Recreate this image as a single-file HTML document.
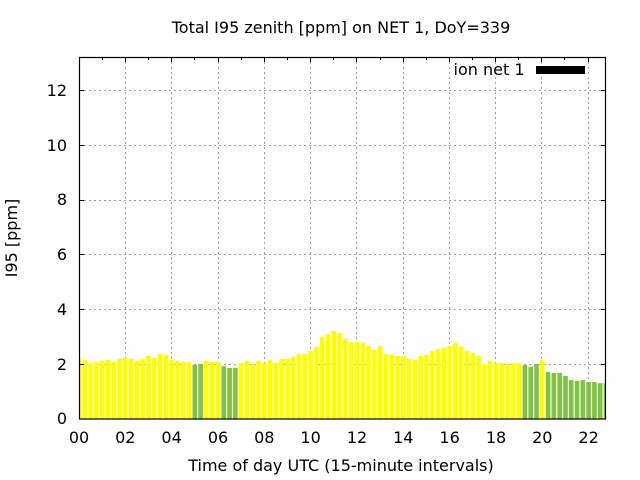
<!DOCTYPE html>
<html><head><meta charset="utf-8"><style>
html,body{margin:0;padding:0;background:#fff;}
svg{display:block;}
text{font-family:"DejaVu Sans","Liberation Sans",sans-serif;font-size:16px;fill:#000;}
</style></head><body>
<svg width="640" height="480" viewBox="0 0 640 480" xmlns="http://www.w3.org/2000/svg">
<rect x="0" y="0" width="640" height="480" fill="#fff"/>
<defs><clipPath id="pc"><rect x="79" y="57" width="527" height="362"/></clipPath></defs>
<g stroke="#a0a0a0" stroke-width="1" stroke-dasharray="2,3" fill="none">
<path d="M79,364.5H606M79,309.5H606M79,254.5H606M79,200.5H606M79,145.5H606M79,90.5H606"/>
<path d="M125.5,57V419M171.5,57V419M218.5,57V419M264.5,57V419M310.5,57V419M356.5,57V419M403.5,57V419M449.5,57V419M495.5,57V419M541.5,57V419M588.5,57V419"/>
</g>
<g clip-path="url(#pc)">
<g transform="translate(79,419) scale(5.7912,-27.39)">
<path fill="#ffff00" d="M-.4 0v2.23h.8V0z M.6 0v2.15h.8V0z M1.6 0v2.04h.8V0z M2.6 0v2.08h.8V0z M3.6 0v2.12h.8V0z M4.6 0v2.15h.8V0z M5.6 0v2.08h.8V0z M6.6 0v2.19h.8V0z M7.6 0v2.23h.8V0z M8.6 0v2.19h.8V0z M9.6 0v2.12h.8V0z M10.6 0v2.19h.8V0z M11.6 0v2.3h.8V0z M12.6 0v2.23h.8V0z M13.6 0v2.37h.8V0z M14.6 0v2.34h.8V0z M15.6 0v2.15h.8V0z M16.6 0v2.12h.8V0z M17.6 0v2.08h.8V0z M18.6 0v2.08h.8V0z M21.6 0v2.12h.8V0z M22.6 0v2.08h.8V0z M23.6 0v2.08h.8V0z M27.6 0v2.04h.8V0z M28.6 0v2.12h.8V0z M29.6 0v2.01h.8V0z M30.6 0v2.12h.8V0z M31.6 0v2.04h.8V0z M32.6 0v2.15h.8V0z M33.6 0v2.04h.8V0z M34.6 0v2.19h.8V0z M35.6 0v2.19h.8V0z M36.6 0v2.26h.8V0z M37.6 0v2.37h.8V0z M38.6 0v2.37h.8V0z M39.6 0v2.48h.8V0z M40.6 0v2.63h.8V0z M41.6 0v2.99h.8V0z M42.6 0v3.1h.8V0z M43.6 0v3.21h.8V0z M44.6 0v3.14h.8V0z M45.6 0v2.92h.8V0z M46.6 0v2.81h.8V0z M47.6 0v2.81h.8V0z M48.6 0v2.77h.8V0z M49.6 0v2.66h.8V0z M50.6 0v2.52h.8V0z M51.6 0v2.66h.8V0z M52.6 0v2.37h.8V0z M53.6 0v2.34h.8V0z M54.6 0v2.3h.8V0z M55.6 0v2.3h.8V0z M56.6 0v2.19h.8V0z M57.6 0v2.15h.8V0z M58.6 0v2.3h.8V0z M59.6 0v2.34h.8V0z M60.6 0v2.48h.8V0z M61.6 0v2.55h.8V0z M62.6 0v2.59h.8V0z M63.6 0v2.66h.8V0z M64.6 0v2.77h.8V0z M65.6 0v2.63h.8V0z M66.6 0v2.48h.8V0z M67.6 0v2.41h.8V0z M68.6 0v2.3h.8V0z M69.6 0v2.01h.8V0z M70.6 0v2.12h.8V0z M71.6 0v2.04h.8V0z M72.6 0v2.04h.8V0z M73.6 0v2.01h.8V0z M74.6 0v2.04h.8V0z M75.6 0v2.04h.8V0z M79.6 0v2.15h.8V0z"/>
<path fill="#80c242" d="M19.6 0v1.97h.8V0z M20.6 0v2.01h.8V0z M24.6 0v1.93h.8V0z M25.6 0v1.86h.8V0z M26.6 0v1.86h.8V0z M76.6 0v1.97h.8V0z M77.6 0v1.9h.8V0z M78.6 0v2.01h.8V0z M80.6 0v1.72h.8V0z M81.6 0v1.68h.8V0z M82.6 0v1.68h.8V0z M83.6 0v1.57h.8V0z M84.6 0v1.42h.8V0z M85.6 0v1.39h.8V0z M86.6 0v1.42h.8V0z M87.6 0v1.35h.8V0z M88.6 0v1.35h.8V0z M89.6 0v1.31h.8V0z M90.6 0v1.31h.8V0z"/>
</g>
</g>
<g stroke="#000" stroke-width="1" fill="none">
<path d="M79,364.5h5M79,309.5h5M79,254.5h5M79,200.5h5M79,145.5h5M79,90.5h5"/>
<path d="M606,364.5h-5M606,309.5h-5M606,254.5h-5M606,200.5h-5M606,145.5h-5M606,90.5h-5"/>
<path d="M125.5,57v5M171.5,57v5M218.5,57v5M264.5,57v5M310.5,57v5M356.5,57v5M403.5,57v5M449.5,57v5M495.5,57v5M541.5,57v5M588.5,57v5"/>
<path d="M102.5,57v3M148.5,57v3M194.5,57v3M241.5,57v3M287.5,57v3M333.5,57v3M380.5,57v3M426.5,57v3M472.5,57v3M518.5,57v3M564.5,57v3"/>
</g>
<rect x="79.5" y="57.5" width="526" height="361.5" fill="none" stroke="#000" stroke-width="1.2"/>
<g text-anchor="end">
<text x="67" y="424">0</text>
<text x="67" y="370">2</text>
<text x="67" y="315">4</text>
<text x="67" y="260">6</text>
<text x="67" y="205">8</text>
<text x="67" y="151">10</text>
<text x="67" y="96">12</text>
</g>
<g text-anchor="middle">
<text x="79" y="443">00</text>
<text x="125.3" y="443">02</text>
<text x="171.6" y="443">04</text>
<text x="218" y="443">06</text>
<text x="264.3" y="443">08</text>
<text x="310.6" y="443">10</text>
<text x="357" y="443">12</text>
<text x="403.3" y="443">14</text>
<text x="449.6" y="443">16</text>
<text x="496" y="443">18</text>
<text x="542.3" y="443">20</text>
<text x="588.6" y="443">22</text>
</g>
<text x="341" y="33" text-anchor="middle">Total I95 zenith [ppm] on NET 1, DoY=339</text>
<text x="341" y="471" text-anchor="middle">Time of day UTC (15-minute intervals)</text>
<text transform="translate(17,238) rotate(-90)" text-anchor="middle">I95 [ppm]</text>
<text x="524.5" y="75" text-anchor="end">ion net 1</text>
<rect x="536" y="66" width="49" height="8" fill="#000"/>
</svg>
</body></html>
